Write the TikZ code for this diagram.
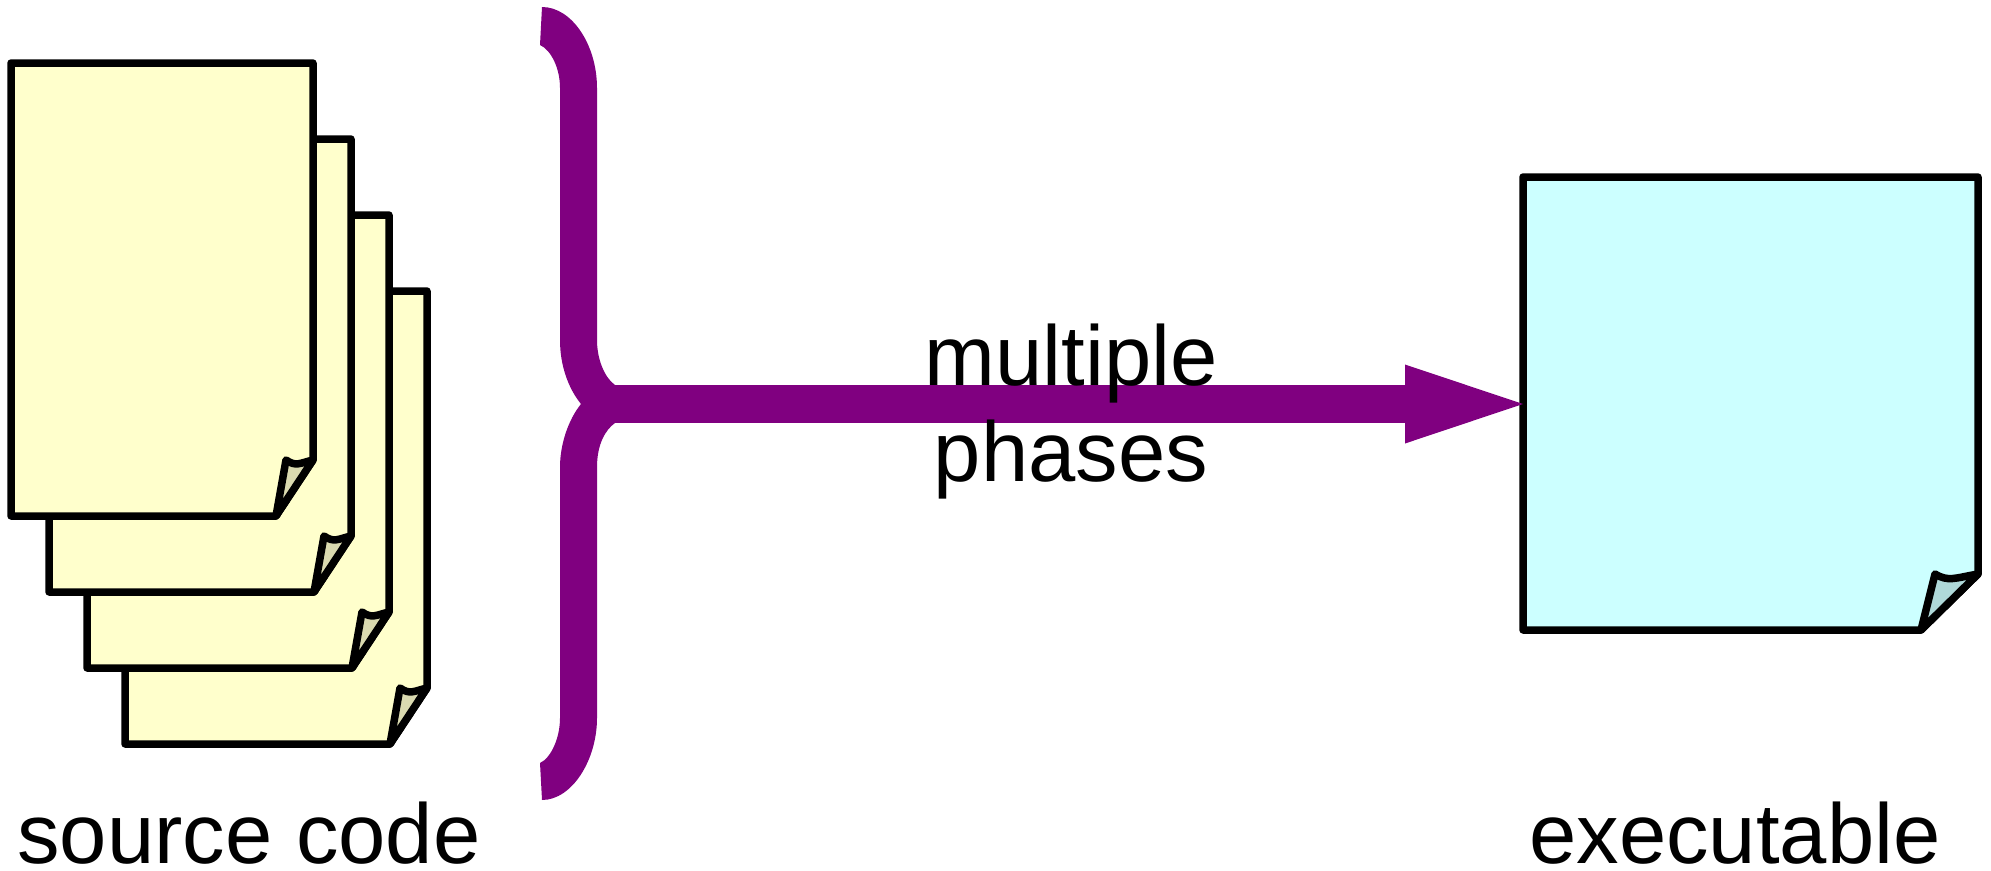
\documentclass[tikz,border=0pt]{standalone}
\usepackage{fontspec}
\setmainfont{Liberation Sans}
\usetikzlibrary{arrows.meta}
\definecolor{srcfill}{HTML}{FFFFCC}
\definecolor{srcfold}{HTML}{DADAB0}
\definecolor{exefill}{HTML}{CCFFFF}
\definecolor{exefold}{HTML}{AFD9D9}
\definecolor{phasecolor}{HTML}{800080}
\tikzset{
  sheet/.style={draw=black, line width=7.5pt, line join=round},
  phasearrow/.style={draw=phasecolor, line width=38pt, -{Triangle[length=118pt,width=79pt,line width=0pt]}},
  caption/.style={inner sep=0pt, anchor=base, align=center, font=\fontsize{85}{96}\selectfont}
}
\begin{document}
\begin{tikzpicture}[x=1pt, y=-1pt]
        \useasboundingbox (0,0) rectangle (1991,870);
        \foreach \Step in {3,2,1,0}{
            \begin{scope}[shift={({38*\Step},{76*\Step})}]
                \draw[sheet, fill=srcfill] (11,63)--(313,63)--(313,460)--(276,516)--(11,516)--cycle;
                \draw[sheet, fill=srcfold] (276,516)--(286,460) .. controls (296,467) and (300,463) .. (313,460)--cycle;
            \end{scope}
        }
        \draw[sheet, fill=exefill] (1523,177)--(1978,177)--(1978,574)--(1921,630)--(1523,630)--cycle;
        \draw[sheet, fill=exefold] (1921,630)--(1935,574) .. controls (1948,582) and (1955,578) .. (1978,574)--cycle;
        \fill[phasecolor] (542,7) .. controls (572,7) and (597,45) .. (597,88)--(597,340) .. controls (597,360) and (605,378) .. (615,385)--(615,423) .. controls (605,430) and (597,445) .. (597,467)--(597,718) .. controls (597,760) and (572,800) .. (542,800)--(540,763) .. controls (551,758) and (560,738) .. (560,718)--(560,467) .. controls (560,445) and (568,420) .. (581,404) .. controls (568,388) and (560,365) .. (560,340)--(560,88) .. controls (560,68) and (551,50) .. (540,45)--cycle;
        \coordinate (join) at (610,404);
        \coordinate (exein) at (1523,404);
        \draw[phasearrow] (join)--(exein);
        \node[caption] (phases) at (1071,481) {multiple\\phases};
        \node[caption] (source) at (249,863) {source code};
        \node[caption] (exe) at (1735,863) {executable};
\end{tikzpicture}
\end{document}
